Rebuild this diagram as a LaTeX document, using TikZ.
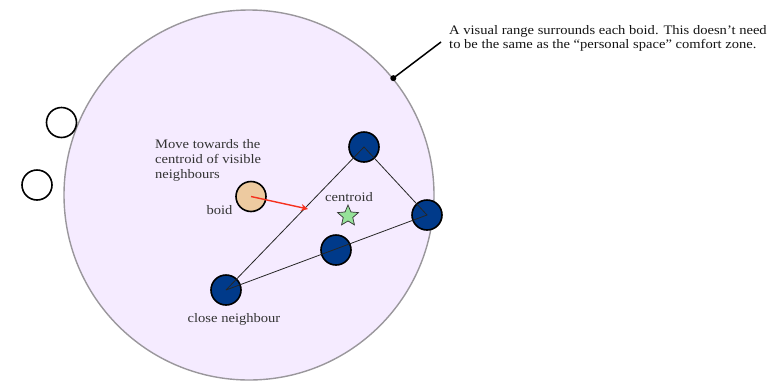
\documentclass[tikz,border=0pt]{standalone}
\usepackage{fontspec}
\setmainfont[FakeStretch=1.12]{Liberation Serif}
\usetikzlibrary{shapes.geometric,arrows.meta}
\definecolor{rangefill}{HTML}{F5EBFF}
\definecolor{rangeedge}{HTML}{9A979C}
\definecolor{boidfill}{HTML}{EDCAA0}
\definecolor{nbfill}{HTML}{003A8A}
\definecolor{starfill}{HTML}{96E29A}
\definecolor{txt}{HTML}{333333}
\definecolor{pull}{HTML}{F5301E}
\begin{document}
\begin{tikzpicture}[x=1pt,y=-1pt,
  visrange/.style={circle,draw=rangeedge,line width=1.4pt,fill=rangefill,minimum size=370pt,inner sep=0},
  outsideboid/.style={circle,draw=black,line width=1.6pt,fill=white,minimum size=30pt,inner sep=0},
  neighbour/.style={circle,draw=black,line width=1.6pt,fill=nbfill,minimum size=30pt,inner sep=0},
  selfboid/.style={circle,draw=black,line width=1.6pt,fill=boidfill,minimum size=30pt,inner sep=0},
  lbl/.style={font=\fontsize{13}{15}\selectfont,text=txt,inner sep=0},
  link/.style={draw=black!85,line width=0.8pt}]
\useasboundingbox (0,0) rectangle (769,381);
% visual range of the boid
\node[visrange] (range) at (249,195) {};
% boids outside the range
\node[outsideboid] (o1) at (61.5,122.5) {};
\node[outsideboid] (o2) at (37,185) {};
% visible neighbours
\node[neighbour] (n1) at (364,147) {};
\node[neighbour] (n2) at (427,215) {};
\node[neighbour] (n3) at (336,250) {};
\node[neighbour] (n4) at (226,290) {};
\draw[link] (n4.center) -- (n1.center) -- (n2.center) -- (n4.center);
% the boid itself
\node[selfboid] (boid) at (251,196.5) {};
\coordinate (target) at (308,209);
\draw[pull,line width=1.4pt,-{Stealth[length=7pt,width=7pt]}] (boid.center) -- (target);
% centroid
\node[star,star points=5,star point ratio=2.2,draw=black!80,fill=starfill,line width=0.7pt,minimum size=22pt,inner sep=0] (star) at (348,216) {};
\node[lbl,anchor=base] (ctext) at (349,201) {centroid};
\node[lbl,anchor=base] (btext) at (219.5,214) {boid};
\node[lbl,anchor=base] (ntext) at (234,322) {close neighbour};
\node[lbl,anchor=north west,align=left] (move) at (155,139) {Move towards the\\centroid of visible\\neighbours};
% annotation of the range
\coordinate (tip) at (441,42);
\fill (range.{39}) circle (3pt);
\draw[line width=1.5pt] (range.{39}) -- (tip);
\node[lbl,anchor=north west,align=left,text=black!92,font=\fontsize{13}{14}\selectfont] (note) at (449,25) {A visual range surrounds each boid. This doesn’t need\\to be the same as the “personal space” comfort zone.};
\end{tikzpicture}
\end{document}
